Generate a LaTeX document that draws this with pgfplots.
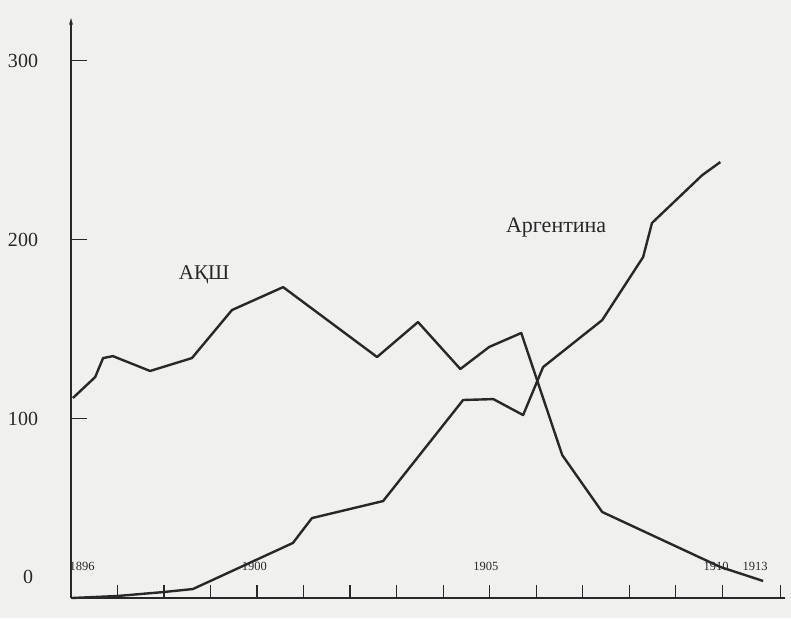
\documentclass[border=0pt]{standalone}
\usepackage{pgfplots}
\pgfplotsset{compat=1.18}
\usepackage{fontspec}
\setmainfont{Liberation Serif}
\usetikzlibrary{arrows.meta}
\definecolor{ink}{RGB}{40,40,40}
\definecolor{paper}{RGB}{240,240,238}
\begin{document}
\begin{tikzpicture}[x=1pt,y=1pt]
\fill[paper] (0,0) rectangle (791,618);
\path[use as bounding box] (0,0) rectangle (791,618);
\begin{axis}[
  at={(71pt,20pt)}, anchor=south west,
  scale only axis, width=714pt, height=580pt,
  xmin=1896, xmax=1911.35, ymin=0, ymax=323.7,
  axis x line=bottom, axis y line=left,
  axis line style={ink, line width=1.4pt},
  x axis line style={-},
  y axis line style={-{Stealth[length=7pt,width=4pt]}},
  tick align=inside,
  xtick={1897,1898,1899,1900,1901,1902,1903,1904,1905,1906,1907,1908,1909,1910,1911.25},
  xticklabels={},
  xtick style={ink, line width=1.2pt, /pgfplots/major tick length=13pt},
  ytick={100,200,300},
  yticklabels={100,200,300},
  ytick style={ink, line width=1.2pt, /pgfplots/major tick length=16pt},
  /pgf/number format/assume math mode=true,
  yticklabel style={anchor=center, xshift=-48pt, text=ink, font=\fontsize{20}{20}\selectfont},
  extra y ticks={0}, extra y tick labels={0},
  extra y tick style={yticklabel style={yshift=21pt, xshift=5pt}, /pgfplots/major tick length=0pt},
  clip=false,
]
% USA
\addplot[ink, line width=2.4pt, line join=round] coordinates {
 (1896.04,111.6) (1896.52,123.3) (1896.69,133.9) (1896.90,135.0)
 (1897.70,126.7) (1898.60,133.9) (1899.46,160.7) (1900.56,173.5)
 (1902.58,134.5) (1903.46,154.0) (1904.37,127.8) (1904.99,140.1)
 (1905.68,147.9) (1906.56,79.8) (1907.42,48.0) (1909.96,17.3)
 (1910.88,9.5)
};
% Argentina
\addplot[ink, line width=2.4pt, line join=round] coordinates {
 (1896.02,0.0) (1896.99,1.1) (1897.98,3.3) (1898.62,5.0)
 (1900.77,30.7) (1901.18,44.6) (1902.71,54.1) (1904.43,110.5)
 (1905.08,111.0) (1905.72,102.1) (1906.15,128.9) (1907.42,155.1)
 (1908.30,190.3) (1908.49,209.3) (1909.57,236.0) (1909.96,243.3)
};
\node[text=ink, font=\fontsize{21}{21}\selectfont] at (axis cs:1898.86,180.2) {АҚШ};
\node[text=ink, font=\fontsize{22}{22}\selectfont] at (axis cs:1906.43,207.0) {Аргентина};
\node[text=ink, font=\fontsize{12.5}{12.5}\selectfont] at (axis cs:1896.24,17.9) {1896};
\node[text=ink, font=\fontsize{12.5}{12.5}\selectfont] at (axis cs:1899.94,17.9) {1900};
\node[text=ink, font=\fontsize{12.5}{12.5}\selectfont] at (axis cs:1904.92,17.9) {1905};
\node[text=ink, font=\fontsize{12.5}{12.5}\selectfont] at (axis cs:1909.87,17.9) {1910};
\node[text=ink, font=\fontsize{12.5}{12.5}\selectfont] at (axis cs:1910.71,17.9) {1913};
\end{axis}
\end{tikzpicture}
\end{document}
